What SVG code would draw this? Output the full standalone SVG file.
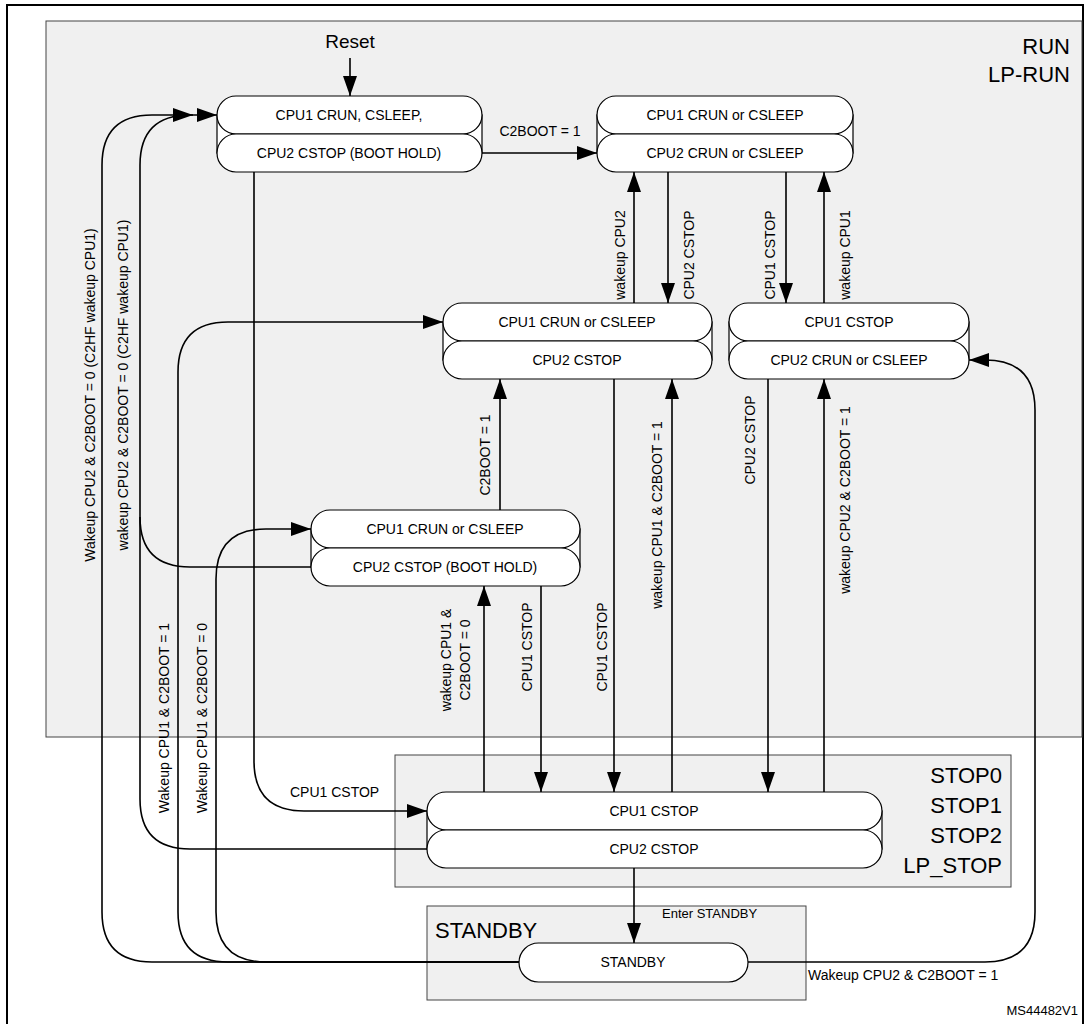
<svg xmlns="http://www.w3.org/2000/svg" width="1085" height="1024" viewBox="0 0 1085 1024">
<style>
text{font-family:"Liberation Sans",Arial,sans-serif;fill:#000}
.n{font-size:14px;text-anchor:middle;dominant-baseline:central}
.l{font-size:14px;text-anchor:middle;dominant-baseline:central}
.b{font-size:22px;text-anchor:end}
.pill{fill:#fff;stroke:#000;stroke-width:1.2}
.box{fill:#f0f0f0;stroke:#444;stroke-width:1}
.c path{fill:none;stroke:#000;stroke-width:1.6}
</style>
<defs>
<marker id="a" markerWidth="20" markerHeight="14" refX="20" refY="7" orient="auto" markerUnits="userSpaceOnUse"><path d="M0,0L20,7L0,14z" fill="#000"/></marker>
</defs>
<rect x="7" y="5" width="1076" height="1030" fill="#fff" stroke="#000" stroke-width="2"/>
<rect class="box" x="46" y="21" width="1036" height="716"/>
<text class="b" x="1070" y="54">RUN</text>
<text class="b" x="1070" y="82">LP-RUN</text>
<rect class="box" x="395" y="755" width="616" height="132"/>
<text class="b" x="1002" y="783">STOP0</text>
<text class="b" x="1002" y="813">STOP1</text>
<text class="b" x="1002" y="843">STOP2</text>
<text class="b" x="1002" y="873">LP_STOP</text>
<rect class="box" x="427" y="906" width="379" height="94"/>
<text x="435" y="938" font-size="22">STANDBY</text>

<g id="A"><rect class="pill" x="217" y="115" width="265" height="38"/><rect class="pill" x="217" y="96" width="265" height="38" rx="19"/><rect class="pill" x="217" y="134" width="265" height="38" rx="19"/><text class="n" x="349" y="115">CPU1 CRUN, CSLEEP,</text><text class="n" x="349" y="153">CPU2 CSTOP (BOOT HOLD)</text></g>
<g id="B"><rect class="pill" x="597" y="115" width="256" height="38"/><rect class="pill" x="597" y="96" width="256" height="38" rx="19"/><rect class="pill" x="597" y="134" width="256" height="38" rx="19"/><text class="n" x="725" y="115">CPU1 CRUN or CSLEEP</text><text class="n" x="725" y="153">CPU2 CRUN or CSLEEP</text></g>
<g id="C"><rect class="pill" x="443" y="322" width="269" height="38"/><rect class="pill" x="443" y="303" width="269" height="38" rx="19"/><rect class="pill" x="443" y="341" width="269" height="38" rx="19"/><text class="n" x="577" y="322">CPU1 CRUN or CSLEEP</text><text class="n" x="577" y="360">CPU2 CSTOP</text></g>
<g id="D"><rect class="pill" x="729" y="322" width="240" height="38"/><rect class="pill" x="729" y="303" width="240" height="38" rx="19"/><rect class="pill" x="729" y="341" width="240" height="38" rx="19"/><text class="n" x="849" y="322">CPU1 CSTOP</text><text class="n" x="849" y="360">CPU2 CRUN or CSLEEP</text></g>
<g id="E"><rect class="pill" x="311" y="529" width="269" height="38"/><rect class="pill" x="311" y="510" width="269" height="38" rx="19"/><rect class="pill" x="311" y="548" width="269" height="38" rx="19"/><text class="n" x="445" y="529">CPU1 CRUN or CSLEEP</text><text class="n" x="445" y="567">CPU2 CSTOP (BOOT HOLD)</text></g>
<g id="F"><rect class="pill" x="427" y="811" width="455" height="38"/><rect class="pill" x="427" y="792" width="455" height="38" rx="19"/><rect class="pill" x="427" y="830" width="455" height="38" rx="19"/><text class="n" x="654" y="811">CPU1 CSTOP</text><text class="n" x="654" y="849">CPU2 CSTOP</text></g>
<g id="G"><rect class="pill" x="519" y="943" width="229" height="39" rx="19.5"/><text class="n" x="633" y="962">STANDBY</text></g>

<g class="c">
<path d="M350,58V96" marker-end="url(#a)"/>
<path d="M482,153H597" marker-end="url(#a)"/>
<path d="M634,303V172" marker-end="url(#a)"/>
<path d="M668,172V303" marker-end="url(#a)"/>
<path d="M786,172V303" marker-end="url(#a)"/>
<path d="M824,303V172" marker-end="url(#a)"/>
<path d="M500,510V379" marker-end="url(#a)"/>
<path d="M614,379V792" marker-end="url(#a)"/>
<path d="M672,792V379" marker-end="url(#a)"/>
<path d="M768,379V792" marker-end="url(#a)"/>
<path d="M824,792V379" marker-end="url(#a)"/>
<path d="M484,792V586" marker-end="url(#a)"/>
<path d="M541,586V792" marker-end="url(#a)"/>
<path d="M634,868V943" marker-end="url(#a)"/>
<path d="M254,172V761Q254,811 304,811H427" marker-end="url(#a)"/>
<path d="M519,962H152Q102,962 102,912V165Q102,115 152,115H193" marker-end="url(#a)"/>
<path d="M427,849H190Q140,849 140,799V165Q140,115 190,115H217" marker-end="url(#a)"/>
<path d="M311,567H190Q140,567 140,517"/>
<path d="M519,962H228Q178,962 178,912V372Q178,322 228,322H443" marker-end="url(#a)"/>
<path d="M519,962H266Q216,962 216,912V579Q216,529 266,529H311" marker-end="url(#a)"/>
<path d="M748,962H985Q1035,962 1035,912V410Q1035,360 985,360H969" marker-end="url(#a)"/>
</g>

<g id="labels">
<text x="350" y="48" font-size="19" text-anchor="middle">Reset</text>
<text x="540" y="136" font-size="14" text-anchor="middle">C2BOOT = 1</text>
<text x="290" y="797" font-size="14">CPU1 CSTOP</text>
<text x="662" y="918" font-size="13">Enter STANDBY</text>
<text x="808" y="980" font-size="14">Wakeup CPU2 &amp; C2BOOT = 1</text>
<text x="1078" y="1015" font-size="13" text-anchor="end">MS44482V1</text>
<text class="l" transform="translate(90,395) rotate(-90)">Wakeup CPU2 &amp; C2BOOT = 0 (C2HF wakeup CPU1)</text>
<text class="l" transform="translate(123,385) rotate(-90)">wakeup CPU2 &amp; C2BOOT = 0 (C2HF wakeup CPU1)</text>
<text class="l" transform="translate(164,718) rotate(-90)">Wakeup CPU1 &amp; C2BOOT = 1</text>
<text class="l" transform="translate(202,718) rotate(-90)">Wakeup CPU1 &amp; C2BOOT = 0</text>
<text class="l" transform="translate(620,255) rotate(-90)">wakeup CPU2</text>
<text class="l" transform="translate(689,255) rotate(-90)">CPU2 CSTOP</text>
<text class="l" transform="translate(770,255) rotate(-90)">CPU1 CSTOP</text>
<text class="l" transform="translate(845,255) rotate(-90)">wakeup CPU1</text>
<text class="l" transform="translate(485,455) rotate(-90)">C2BOOT = 1</text>
<text class="l" transform="translate(750,440) rotate(-90)">CPU2 CSTOP</text>
<text class="l" transform="translate(657,515) rotate(-90)">wakeup CPU1 &amp; C2BOOT = 1</text>
<text class="l" transform="translate(845,500) rotate(-90)">wakeup CPU2 &amp; C2BOOT = 1</text>
<text class="l" transform="translate(446,660) rotate(-90)">wakeup CPU1 &amp;</text>
<text class="l" transform="translate(465,660) rotate(-90)">C2BOOT = 0</text>
<text class="l" transform="translate(527,647) rotate(-90)">CPU1 CSTOP</text>
<text class="l" transform="translate(602,647) rotate(-90)">CPU1 CSTOP</text>
</g>
</svg>
